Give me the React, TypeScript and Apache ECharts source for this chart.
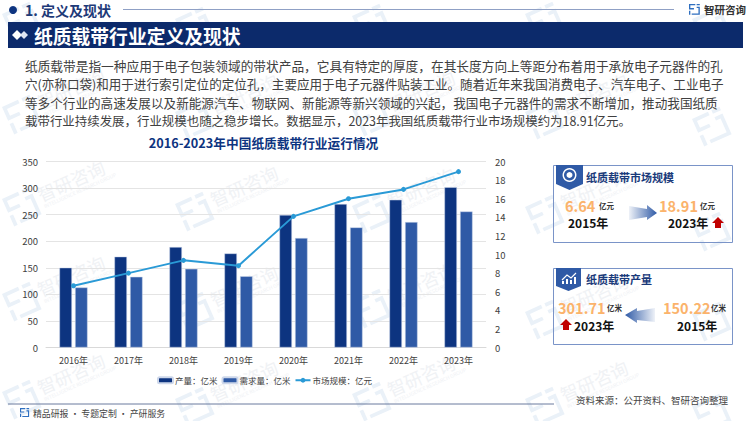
import React, { useEffect, useRef } from "react";
import * as echarts from "echarts";

const categories = ["2016年", "2017年", "2018年", "2019年", "2020年", "2021年", "2022年", "2023年"];
const production = [150.22, 171, 189, 177, 249.5, 270, 278, 301.71];
const demand = [113, 133, 148, 134, 206, 226, 236, 256];
const marketSize = [6.64, 8, 9.37, 8.8, 14.1, 16, 17, 18.91];
const bodyLines = [
  "纸质载带是指一种应用于电子包装领域的带状产品，它具有特定的厚度，在其长度方向上等距分布着用于承放电子元器件的孔",
  "穴(亦称口袋)和用于进行索引定位的定位孔，主要应用于电子元器件贴装工业。随着近年来我国消费电子、汽车电子、工业电子",
  "等多个行业的高速发展以及新能源汽车、物联网、新能源等新兴领域的兴起，我国电子元器件的需求不断增加，推动我国纸质",
  "载带行业持续发展，行业规模也随之稳步增长。数据显示，2023年我国纸质载带行业市场规模约为18.91亿元。",
];
const bodySizes = [12.7, 12.55, 12.6, 12.45];
const watermarks = [
  [17, 20], [190, 25], [367, 22], [540, 20], [707, 25],
  [17, 113], [190, 118], [367, 115], [540, 118], [707, 125],
  [17, 205], [190, 210], [367, 212], [540, 213], [707, 230],
  [17, 300], [190, 310], [367, 307], [540, 318], [707, 320],
  [17, 398], [190, 405], [367, 400], [540, 405], [707, 412],
];

const FONT = '"Noto Sans CJK SC", "Noto Sans", sans-serif';
const NAVY = "#0d3480";
const BLUE = "#2f5aa6";
const CYAN = "#2a9ad6";
const ORANGE = "#fbb36b";

const logoD = "M0 0H14V3H3V9H11V12H0Z M17 0H24V3H17Z M17 6H24V24H6V21H21V9H17Z M0 15H3V24H0Z";
echarts.graphic.registerShape("logo", echarts.graphic.extendPath(logoD, {}) as any);

const txt = (text: string, x: number, y: number, size: number, fill: string, weight: any = "normal", align = "left", extra: any = {}) => ({
  type: "text",
  x,
  y,
  silent: true,
  z: 10,
  style: { text, fontSize: size, fontWeight: weight, fill, fontFamily: FONT, textAlign: align, textVerticalAlign: "middle", ...extra },
});

const logoAt = (x: number, y: number, s: number, fill: string, z = 10) => ({
  type: "logo", x, y, scaleX: s, scaleY: s, silent: true, z, style: { fill },
});

const gradArrow = (points: number[][], leftToRight: boolean) => ({
  type: "polygon",
  silent: true,
  z: 10,
  shape: { points },
  style: {
    fill: new echarts.graphic.LinearGradient(0, 0, 1, 0, leftToRight
      ? [{ offset: 0, color: "rgba(47,90,166,0.08)" }, { offset: 1, color: "#2f5aa6" }]
      : [{ offset: 0, color: "#2f5aa6" }, { offset: 1, color: "rgba(47,90,166,0.08)" }]),
  },
});

const redUp = (cx: number, cy: number) => ({
  type: "polygon",
  silent: true,
  z: 10,
  shape: { points: [[cx, cy - 6], [cx + 6, cy], [cx + 3, cy], [cx + 3, cy + 5], [cx - 3, cy + 5], [cx - 3, cy], [cx - 6, cy]] },
  style: { fill: "#c00000" },
});

const card = (y: number, h: number) => ({
  type: "rect", silent: true, z: 5,
  shape: { x: 553.5, y: y + 0.5, width: 179, height: h },
  style: { fill: "rgba(255,255,255,0)", stroke: "#7a94c8", lineWidth: 1 },
});

const watermarkEls = watermarks.flatMap(([x, y]) => {
  const logo = { ...logoAt(x - 15, y - 6, 1.25, "#eaf1f8", -1), rotation: 0.42 };
  if (y < 100 || x > 700) return [logo];
  return [
    logo,
    {
      type: "text", x: x + 21, y: y - 10, rotation: 0.42, silent: true, z: -1,
      style: { text: "智研咨询", fontSize: 18, fill: "#f0f2f5", fontFamily: FONT, textVerticalAlign: "middle" },
    },
    {
      type: "text", x: x + 27, y: y + 1, rotation: 0.42, silent: true, z: -1,
      style: { text: "INTELLIGENCE RESEARCH GROUP", fontSize: 5, fill: "#f0f2f5", fontFamily: FONT, textVerticalAlign: "middle" },
    },
  ];
});

const graphicEls: any[] = [
  ...watermarkEls,
  // top header
  { type: "circle", silent: true, z: 10, shape: { cx: 13, cy: 10, r: 4 }, style: { fill: NAVY } },
  txt("1. 定义及现状", 25, 10, 14, "#1e3a78", "bold"),
  { type: "line", silent: true, z: 10, shape: { x1: 123, y1: 9.5, x2: 674, y2: 9.5 }, style: { stroke: "#8fa0c5", lineWidth: 1 } },
  logoAt(689, 4, 0.45, "#2f6fc0"),
  txt("智研咨询", 704, 9.5, 10.5, "#333333", "bold"),
  // banner
  { type: "rect", silent: true, z: 9, shape: { x: 8, y: 22, width: 735, height: 26 }, style: { fill: "#0c2a6b" } },
  { type: "polygon", silent: true, z: 10, shape: { points: [[17, 30], [22, 35], [17, 40], [12, 35]] }, style: { fill: "#ffffff" } },
  { type: "polygon", silent: true, z: 10, shape: { points: [[24, 31], [28, 35], [24, 39], [20, 35]] }, style: { fill: "#dfe6f3" } },
  txt("纸质载带行业定义及现状", 34, 35, 18.8, "#ffffff", "bold"),
  // body
  ...bodyLines.map((l, i) => txt(l, 25, 65 + i * 18.7, bodySizes[i], "#404040")),
  // chart title
  txt("2016-2023年中国纸质载带行业运行情况", 263.5, 142, 12.7, NAVY, "bold", "center"),
  // card 1
  card(165, 77),
  { type: "polygon", silent: true, z: 10, shape: { points: [[556, 165], [583, 165], [583, 184], [569.5, 190], [556, 184]] }, style: { fill: BLUE } },
  { type: "circle", silent: true, z: 11, shape: { cx: 569.5, cy: 175, r: 7 }, style: { fill: "#ffffff" } },
  { type: "ring", silent: true, z: 12, shape: { cx: 569.5, cy: 175, r: 5.5, r0: 3 }, style: { fill: BLUE } },
  txt("纸质载带市场规模", 586, 177, 11, "#1a3a7a", "bold"),
  txt("6.64", 565, 205, 14.5, ORANGE, "bold"),
  txt("亿元", 599, 205, 7.5, "#333333", "bold"),
  txt("2015年", 568, 222, 12, "#111111", "bold"),
  gradArrow([[629, 206], [647, 209], [647, 205], [657, 213], [647, 220], [647, 217], [629, 220]], true),
  txt("18.91", 659, 205, 14.5, ORANGE, "bold"),
  txt("亿元", 700, 205, 7.5, "#333333", "bold"),
  txt("2023年", 668, 222, 12, "#111111", "bold"),
  redUp(718, 223),
  // card 2
  card(268, 76),
  { type: "polygon", silent: true, z: 10, shape: { points: [[556, 268], [581, 268], [581, 286], [568.5, 291], [556, 286]] }, style: { fill: BLUE } },
  { type: "polyline", silent: true, z: 11, shape: { points: [[562, 280], [567, 275], [571, 278], [576, 273]] }, style: { stroke: "#ffffff", lineWidth: 1.2, fill: "none" } },
  { type: "rect", silent: true, z: 11, shape: { x: 562, y: 281, width: 2, height: 3 }, style: { fill: "#ffffff" } },
  { type: "rect", silent: true, z: 11, shape: { x: 566, y: 279, width: 2, height: 5 }, style: { fill: "#ffffff" } },
  { type: "rect", silent: true, z: 11, shape: { x: 570, y: 280, width: 2, height: 4 }, style: { fill: "#ffffff" } },
  { type: "rect", silent: true, z: 11, shape: { x: 574, y: 277, width: 2, height: 7 }, style: { fill: "#ffffff" } },
  txt("纸质载带产量", 586, 279, 11, "#1a3a7a", "bold"),
  txt("301.71", 558, 307, 14.5, ORANGE, "bold"),
  txt("亿米", 607, 307, 7.5, "#333333", "bold"),
  redUp(566, 325),
  txt("2023年", 574, 325, 12, "#111111", "bold"),
  gradArrow([[655, 308], [637, 311], [637, 308], [625, 315], [637, 323], [637, 320], [655, 322]], false),
  txt("150.22", 663, 307, 14.5, ORANGE, "bold"),
  txt("亿米", 711, 307, 7.5, "#333333", "bold"),
  txt("2015年", 677, 325, 12, "#111111", "bold"),
  // footer
  { type: "line", silent: true, z: 10, shape: { x1: 8, y1: 404, x2: 554, y2: 404 }, style: { stroke: "#6b7a9e", lineWidth: 1 } },
  txt("资料来源：公开资料、智研咨询整理", 576, 400, 9.5, "#444444"),
  logoAt(20, 408, 0.38, "#2f6fc0"),
  txt("精品研报 · 专题定制 · 产研服务", 33, 413, 8.9, "#444444"),
];

export default function App() {
  const ref = useRef<HTMLDivElement>(null);
  useEffect(() => {
    document.body.style.margin = "0";
    const chart = echarts.init(ref.current!, undefined, { renderer: "svg" });
    chart.setOption({
      animation: false,
      backgroundColor: "#ffffff",
      textStyle: { fontFamily: FONT },
      grid: { left: 46, right: 264, top: 161.5, bottom: 73.5, containLabel: false },
      legend: {
        left: 152, top: 371, itemWidth: 15, itemHeight: 6, itemGap: 4, padding: [5, 5, 5, 5],
        textStyle: { fontSize: 8.5, color: "#404040", fontFamily: FONT, padding: [0, 0, 0, -3] },
        data: ["产量：亿米", "需求量：亿米", "市场规模：亿元"],
      },
      xAxis: {
        type: "category", data: categories,
        axisLine: { lineStyle: { color: "#d9d9d9" } }, axisTick: { show: false },
        axisLabel: { fontSize: 9, color: "#404040", margin: 8, fontFamily: FONT },
      },
      yAxis: [
        {
          type: "value", min: 0, max: 350, interval: 50,
          axisLine: { show: false }, axisTick: { show: false },
          axisLabel: { fontSize: 9.5, color: "#404040", margin: 8, fontFamily: FONT },
          splitLine: { lineStyle: { color: "#e4e4e4" } },
        },
        {
          type: "value", min: 0, max: 20, interval: 2,
          axisLine: { show: false }, axisTick: { show: false },
          axisLabel: { fontSize: 9.5, color: "#404040", margin: 9, fontFamily: FONT },
          splitLine: { show: false },
        },
      ],
      series: [
        { name: "产量：亿米", type: "bar", data: production, barWidth: 12.5, barGap: "25%", itemStyle: { color: NAVY, borderColor: "#cdd7ea", borderWidth: 0.5 } },
        { name: "需求量：亿米", type: "bar", data: demand, barWidth: 12.5, itemStyle: { color: BLUE, borderColor: "#cdd7ea", borderWidth: 0.5 } },
        {
          name: "市场规模：亿元", type: "line", yAxisIndex: 1, data: marketSize, symbol: "circle", symbolSize: 5,
          itemStyle: { color: CYAN }, lineStyle: { color: CYAN, width: 2 },
        },
      ],
      graphic: { elements: graphicEls },
    });
    return () => chart.dispose();
  }, []);
  return <div ref={ref} style={{ width: 750, height: 421 }} />;
}
